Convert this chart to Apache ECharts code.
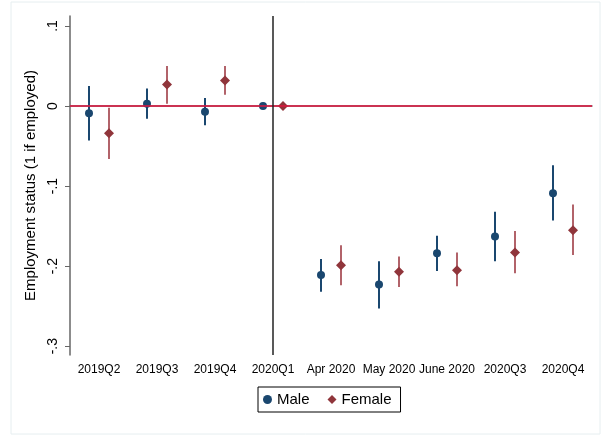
<!DOCTYPE html>
<html>
<head>
<meta charset="utf-8">
<script src="https://cdn.jsdelivr.net/npm/echarts@6/dist/echarts.min.js"></script>
<style>
  html, body { margin: 0; padding: 0; background: #fff; }
  #box { width: 604px; height: 435px; }
</style>
</head>
<body>
<div id="box"></div>
<script>
// 类别与数据
var categories = ["2019Q2", "2019Q3", "2019Q4", "2020Q1", "Apr 2020", "May 2020", "June 2020", "2020Q3", "2020Q4"];
var maleCoef = [-0.009, 0.003, -0.007, 0, -0.211, -0.223, -0.184, -0.163, -0.109];
var maleLow = [-0.043, -0.016, -0.024, 0, -0.232, -0.253, -0.206, -0.194, -0.143];
var maleHigh = [0.025, 0.022, 0.010, 0, -0.191, -0.194, -0.162, -0.132, -0.074];
var femaleCoef = [-0.034, 0.027, 0.032, 0, -0.199, -0.207, -0.205, -0.183, -0.155];
var femaleLow = [-0.066, 0.003, 0.014, 0, -0.224, -0.226, -0.225, -0.209, -0.186];
var femaleHigh = [-0.002, 0.050, 0.050, 0, -0.174, -0.188, -0.183, -0.156, -0.123];
var yTicks = [-0.3, -0.2, -0.1, 0, 0.1];

var font = "'Liberation Sans', Arial, sans-serif";

function rows(coef, low, high) {
  return categories.map(function (c, i) { return [i, coef[i], low[i], high[i]]; });
}

// 绘制置信区间和点
function makeRender(dx, lineColor, dotColor, shape) {
  return function (params, api) {
    var p = api.coord([api.value(0), api.value(1)]);
    var lo = api.coord([api.value(0), api.value(2)]);
    var hi = api.coord([api.value(0), api.value(3)]);
    var x = p[0] + dx;
    var marker;
    if (shape === "diamond") {
      var r = 5;
      marker = {
        type: "polygon",
        shape: { points: [[x, p[1] - r], [x + r, p[1]], [x, p[1] + r], [x - r, p[1]]] },
        style: { fill: dotColor }
      };
    } else {
      marker = { type: "circle", shape: { cx: x, cy: p[1], r: 4 }, style: { fill: dotColor } };
    }
    return {
      type: "group",
      children: [
        { type: "line", shape: { x1: x, y1: lo[1], x2: x, y2: hi[1] }, style: { stroke: lineColor, lineWidth: 2 } },
        marker
      ]
    };
  };
}

var myCharts = echarts.init(document.getElementById("box"));
var option = {
  backgroundColor: "#fff",
  textStyle: { fontFamily: font },
  animation: false,
  graphic: [{
    type: "rect",
    shape: { x: 11, y: 2, width: 589, height: 432 },
    style: { fill: "none", stroke: "#e6eef0", lineWidth: 1 },
    silent: true
  }],
  grid: { left: 70, right: 12, top: 16, bottom: 80 },
  legend: {
    left: 258,
    top: 387,
    padding: [5, 9, 5, 5],
    borderColor: "#000",
    borderWidth: 1,
    borderRadius: 0,
    itemGap: 18,
    itemWidth: 9,
    itemHeight: 9,
    textStyle: { fontSize: 15, color: "#000", fontFamily: font },
    data: [
      { name: "Male", icon: "circle", itemStyle: { color: "#1a476f" } },
      { name: "Female", icon: "diamond", itemStyle: { color: "#90353b" } }
    ]
  },
  xAxis: {
    type: "category",
    data: categories,
    boundaryGap: true,
    axisLine: { lineStyle: { color: "#666", width: 1.5 } },
    axisTick: { alignWithLabel: true, length: 5, lineStyle: { color: "#666" } },
    axisLabel: { color: "#000", fontSize: 12, margin: 9, interval: 0, fontFamily: font },
    splitLine: { show: false }
  },
  yAxis: {
    type: "value",
    min: -0.311,
    max: 0.1125,
    name: "Employment status (1 if employed)",
    nameLocation: "middle",
    nameGap: 28,
    nameTextStyle: { color: "#000", fontSize: 15, fontFamily: font },
    axisLine: { show: true, lineStyle: { color: "#666", width: 1.5 } },
    axisTick: { show: true, length: 5, customValues: yTicks, lineStyle: { color: "#666" } },
    axisLabel: {
      color: "#000",
      fontSize: 14,
      rotate: 90,
      margin: 10,
      customValues: yTicks,
      fontFamily: font,
      formatter: function (v) {
        if (Math.abs(v) < 1e-9) return "0";
        return v.toFixed(1).replace("0.", ".");
      }
    },
    splitLine: { show: false }
  },
  series: [
    {
      name: "Male",
      type: "custom",
      renderItem: makeRender(-10, "#1a476f", "#1a476f", "circle"),
      itemStyle: { color: "#1a476f" },
      encode: { x: 0, y: 1 },
      data: rows(maleCoef, maleLow, maleHigh),
      z: 3,
      markLine: {
        silent: true,
        symbol: "none",
        label: { show: false },
        data: [
          { yAxis: 0, lineStyle: { color: "#e0143f", width: 1.5, type: "solid" } },
          { xAxis: "2020Q1", lineStyle: { color: "#222", width: 1.5, type: "solid" } }
        ]
      }
    },
    {
      name: "Female",
      type: "custom",
      renderItem: makeRender(10, "#b2636a", "#90353b", "diamond"),
      itemStyle: { color: "#90353b" },
      encode: { x: 0, y: 1 },
      data: rows(femaleCoef, femaleLow, femaleHigh),
      z: 3
    }
  ]
};
myCharts.setOption(option);
</script>
</body>
</html>
